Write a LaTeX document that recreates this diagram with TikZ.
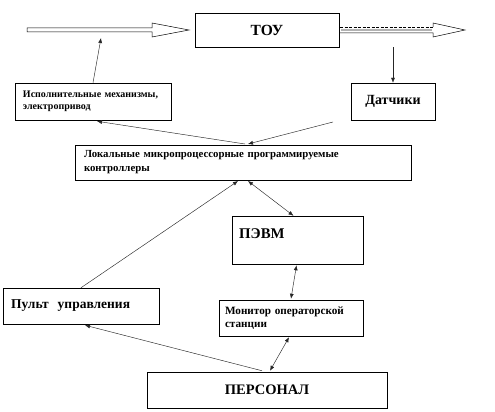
\documentclass[tikz,border=0pt]{standalone}
\usepackage{fontspec}
\setmainfont{Liberation Serif}
\usetikzlibrary{arrows.meta,calc}
\begin{document}
\begin{tikzpicture}[x=1pt,y=-1pt,
  box/.style={draw=black,line width=0.5pt,rectangle,inner sep=0pt,font=\bfseries},
  con/.style={line width=0.45pt,draw=black!85},
  tip/.style={-{Latex[length=5pt,width=4pt]}},
  tips/.style={{Latex[length=5pt,width=4pt]}-{Latex[length=5pt,width=4pt]}}]
\useasboundingbox (0,0) rectangle (495,412);
% boxes
\node[box,minimum width=144pt,minimum height=34pt,font=\bfseries\fontsize{15.5}{17}\selectfont] (tou) at (267,30) {ТОУ};
\node[box,minimum width=156pt,minimum height=37pt,text width=140pt,inner xsep=8pt,align=left,font=\bfseries\fontsize{10}{12.5}\selectfont] (act) at (93,101.5) {Исполнительные механизмы,\\ электропривод};
\node[box,minimum width=84pt,minimum height=37pt,font=\bfseries\fontsize{14}{16}\selectfont] (dat) at (393,101.5) {Датчики};
\node[box,minimum width=336pt,minimum height=35pt,text width=318pt,inner xsep=9pt,align=left,font=\bfseries\fontsize{10.8}{14}\selectfont] (ctrl) at (243,162.5) {Локальные микропроцессорные программируемые\\ контроллеры};
\node[box,minimum width=131pt,minimum height=48pt] (pevm) at (297.5,240) {};
\node[anchor=west,inner sep=0pt,font=\bfseries\fontsize{14.8}{16}\selectfont] (pevmt) at (239,234) {ПЭВМ};
\node[box,minimum width=156pt,minimum height=36pt,text width=140pt,inner xsep=8pt,align=left,font=\bfseries\fontsize{13.5}{15}\selectfont] (pult) at (81,306) {Пульт\ \ управления};
\node[box,minimum width=144pt,minimum height=36pt,text width=132pt,inner xsep=6pt,align=left,font=\bfseries\fontsize{11.2}{13}\selectfont] (mon) at (291,318) {Монитор операторской\\ станции};
\node[box,minimum width=240pt,minimum height=36pt,font=\bfseries\fontsize{14.5}{16}\selectfont] (pers) at (267,390) {ПЕРСОНАЛ};
% big hollow arrows
\draw[line width=0.5pt,fill=white] (27,28) -- (152,28) -- (152,23) -- (189,30) -- (152,37) -- (152,32) -- (27,32) -- cycle;
\draw[line width=0.5pt,fill=white] (433,27) -- (433,23) -- (465,30) -- (433,37) -- (433,33) -- (340,33);
\draw[line width=0.5pt,dashed,dash pattern=on 3pt off 1.5pt] (340,27) -- (433,27);
\draw[line width=1.6pt,black!30] (341,30) -- (432,30);
% coordinates
\coordinate (a1) at (101,38);
\coordinate (dl) at (333,122);
\coordinate (ct1) at (248,144);
\coordinate (ct2) at (245,144);
\coordinate (cb1) at (238,181);
\coordinate (cb2) at (248,181);
% connectors
\draw[con,tip] (act.north) -- (a1);
\draw[con,tip] (tou.south -| dat.north) -- (dat.north);
\draw[con,tip] (ct2) -- ($(act.south)+(4,1)$);
\draw[con,tip] (dl) -- (ct1);
\draw[con,tip] (pult.north) -- (cb1);
\draw[con,tips] (cb2) -- ($(pevm.north)+(-4,0)$);
\draw[con,tips] ($(pevm.south)+(-1,1)$) -- ($(mon.north)+(0,-1)$);
\draw[con,tips] ($(mon.south)+(-2,1)$) -- ($(pers.north)+(3,-1)$);
\draw[con,tip] ($(pers.north)+(-5,-1)$) -- ($(pult.south)+(4,1)$);
\end{tikzpicture}
\end{document}
